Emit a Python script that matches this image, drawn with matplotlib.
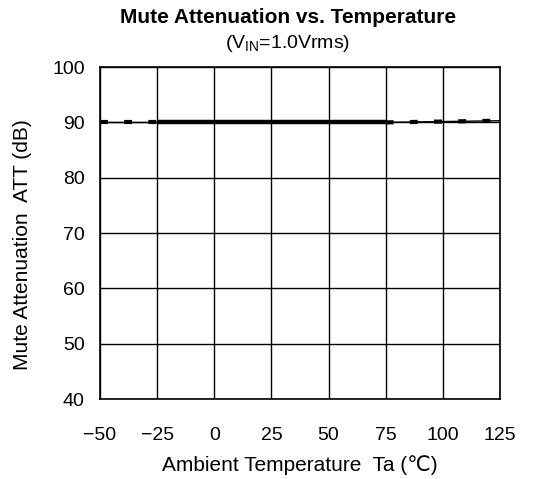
import matplotlib
matplotlib.use("Agg")
import matplotlib.pyplot as plt

temps_meas = [-25, 0, 25, 50, 75]
att_meas = [90.0, 90.0, 90.0, 90.0, 90.0]
temps_low = [-50, -25]
att_low = [90.0, 90.0]
temps_high = [75, 100, 125]
att_high = [90.0, 90.15, 90.3]

xticks = [-50, -25, 0, 25, 50, 75, 100, 125]
xticklabels = ['\u221250', '\u221225', '0', '25', '50', '75', '100', '125']
yticks = [40, 50, 60, 70, 80, 90, 100]

plt.rcParams['font.family'] = ['Liberation Sans', 'DejaVu Sans']

fig = plt.figure(figsize=(5.54, 4.79), dpi=100)
ax = fig.add_axes([0.1805, 0.167, 0.722, 0.693])

for xs, ys in [(temps_low, att_low), (temps_high, att_high)]:
    ax.plot(xs, ys, color='black', lw=1.0, solid_capstyle='butt')
    ax.plot(xs, ys, color='black', lw=3.0, dashes=(1.9, 3.9), dash_capstyle='butt')
ax.plot(temps_meas, att_meas, color='black', lw=3.2, solid_capstyle='butt')

ax.set_xlim(-50, 125)
ax.set_ylim(40, 100)
ax.set_xticks(xticks)
ax.set_yticks(yticks)
ax.set_xticklabels(xticklabels)
ax.grid(True, color='black', lw=1.0)
ax.tick_params(axis='both', length=0, labelsize=14)
ax.tick_params(axis='x', pad=20)
ax.tick_params(axis='y', pad=11)
for s in ax.spines.values():
    s.set_linewidth(1.2)

ax.set_xlabel('Ambient Temperature  Ta (\u2103)', fontsize=15, labelpad=8)
ax.set_ylabel('Mute Attenuation  ATT (dB)', fontsize=15)
ax.yaxis.set_label_coords(-0.17, 0.464)

fig.text(0.52, 0.9645, 'Mute Attenuation vs. Temperature', ha='center', va='center',
         fontsize=15, fontweight='bold')
fig.text(0.52, 0.910, '(V$_{\\mathregular{IN}}$=1.0Vrms)', ha='center', va='center',
         fontsize=14)

fig.savefig('out.png', dpi=100)
